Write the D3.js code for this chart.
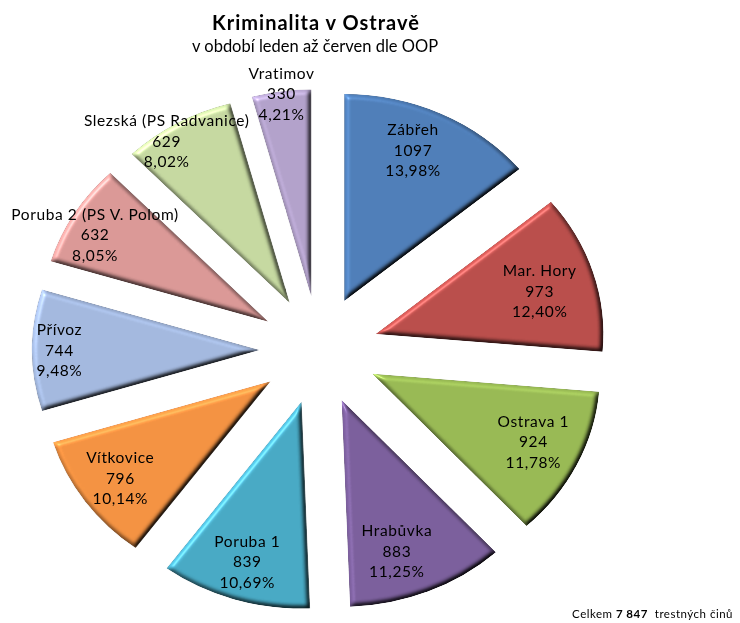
<!DOCTYPE html>
<html>
<head>
<meta charset="utf-8">
<script src="https://cdn.jsdelivr.net/npm/d3@7"></script>
<style>
body{margin:0;background:#fff;}
text{font-family:Lato, "Open Sans", sans-serif;fill:#000;}
</style>
</head>
<body>
<script>
//crime counts per police district, Jan - Jun
var districts = ["Zábřeh", "Mar. Hory", "Ostrava 1", "Hrabůvka", "Poruba 1",
    "Vítkovice", "Přívoz", "Poruba 2 (PS V. Polom)", "Slezská (PS Radvanice)", "Vratimov"];
var crimes = [1097, 973, 924, 883, 839, 796, 744, 632, 629, 330];
var sliceColors = ["#4f7eb8", "#b94e4b", "#98b954", "#7b5f9c", "#48a9c4",
    "#f39242", "#a3b8de", "#da9896", "#c5d8a0", "#b2a1ca"];
//where each data label sits: distance as share of the radius, and a small turn in degrees (best fit in the original)
var labelRadius = [1.05, 1.01, 1.04, 1.03, 1.07, 1.07, 1.14, 1.13, 1.21, 1.25];
var labelTurn = [-2, 1, -1, 3, 0, 0, 0, -2, -4, 0];

var width = 740,
    height = 623;

var svg = d3.select("body")
    .append("svg")
    .attr("width", width)
    .attr("height", height);

//soft bevel look
var defs = svg.append("defs");
var f = defs.append("filter")
    .attr("id", "bevel")
    .attr("color-interpolation-filters", "sRGB")
    .attr("x", "-5%").attr("y", "-5%")
    .attr("width", "110%").attr("height", "110%");
f.append("feGaussianBlur")
    .attr("in", "SourceAlpha")
    .attr("stdDeviation", 2.5)
    .attr("result", "blur");
f.append("feDiffuseLighting")
    .attr("in", "blur")
    .attr("surfaceScale", 4)
    .attr("diffuseConstant", 1)
    .attr("lighting-color", "#fff")
    .attr("result", "diff")
    .append("feDistantLight")
    .attr("azimuth", 225)
    .attr("elevation", 55);
f.append("feSpecularLighting")
    .attr("in", "blur")
    .attr("surfaceScale", 4)
    .attr("specularConstant", 0.3)
    .attr("specularExponent", 40)
    .attr("lighting-color", "#fff")
    .attr("result", "spec")
    .append("feDistantLight")
    .attr("azimuth", 225)
    .attr("elevation", 40);
f.append("feComposite")
    .attr("in", "SourceGraphic").attr("in2", "diff")
    .attr("operator", "arithmetic")
    .attr("k1", 1.22).attr("k2", 0).attr("k3", 0).attr("k4", 0)
    .attr("result", "lit");
f.append("feComposite")
    .attr("in", "spec").attr("in2", "SourceAlpha")
    .attr("operator", "in")
    .attr("result", "specIn");
f.append("feComposite")
    .attr("in", "lit").attr("in2", "specIn")
    .attr("operator", "arithmetic")
    .attr("k1", 0).attr("k2", 1).attr("k3", 0.6).attr("k4", 0)
    .attr("result", "shaded");
f.append("feComposite")
    .attr("in", "shaded").attr("in2", "SourceAlpha")
    .attr("operator", "in");

//pie geometry (the original is stretched a little horizontally)
var cx = 319,
    cy = 350,
    radius = 207,
    explode = 54,
    stretch = 1.1;

var total = d3.sum(crimes);
var pie = d3.pie().sort(null);
var arcs = pie(crimes);
var arc = d3.arc().innerRadius(0).outerRadius(radius);

var slices = svg.append("g")
    .attr("filter", "url(#bevel)")
    .append("g")
    .attr("transform", "translate(" + cx + "," + cy + ") scale(" + stretch + ",1)");

slices.selectAll(".slice")
    .data(arcs)
    .enter()
    .append("path")
    .attr("class", "slice")
    .attr("fill", function(d, i){ return sliceColors[i]; })
    .attr("transform", function(d){
        var a = (d.startAngle + d.endAngle) / 2;
        return "translate(" + (explode * Math.sin(a)) + "," + (-explode * Math.cos(a)) + ")";
    })
    .attr("d", arc);

//data labels: name, count, share
var pct = function(v){ return (v / total * 100).toFixed(2).replace(".", ",") + "%"; };
var labels = svg.selectAll(".lbl")
    .data(arcs)
    .enter()
    .append("text")
    .attr("class", "lbl")
    .attr("text-anchor", "middle")
    .style("font-size", "15.5px")
    .style("letter-spacing", "0.6px")
    .attr("transform", function(d, i){
        var a = (d.startAngle + d.endAngle) / 2 + labelTurn[i] * Math.PI / 180,
            r = radius * labelRadius[i];
        return "translate(" + (cx + stretch * r * Math.sin(a)) + "," + (cy - r * Math.cos(a)) + ")";
    });
labels.each(function(d, i){
    var t = d3.select(this);
    var lines = [districts[i], crimes[i], pct(crimes[i])];
    lines.forEach(function(s, j){
        t.append("tspan")
            .attr("x", 0)
            .attr("y", (j - 1) * 20.5 + 5.5)
            .text(s);
    });
});

//titles
svg.append("text")
    .attr("x", 316)
    .attr("y", 30)
    .attr("text-anchor", "middle")
    .style("font-size", "20px")
    .style("font-weight", "bold")
    .style("letter-spacing", "1px")
    .text("Kriminalita v Ostravě");
svg.append("text")
    .attr("x", 315)
    .attr("y", 52)
    .attr("text-anchor", "middle")
    .style("font-size", "16.5px")
    .text("v období leden až červen dle OOP");

//total note
var note = svg.append("text")
    .attr("x", 733)
    .attr("y", 618)
    .attr("text-anchor", "end")
    .style("font-size", "11.5px")
    .style("letter-spacing", "0.5px");
note.append("tspan").text("Celkem ");
note.append("tspan")
    .style("font-weight", "bold")
    .text(d3.format(",")(total).replace(",", " "));
note.append("tspan").attr("xml:space", "preserve").text("  trestných činů");
</script>
</body>
</html>
